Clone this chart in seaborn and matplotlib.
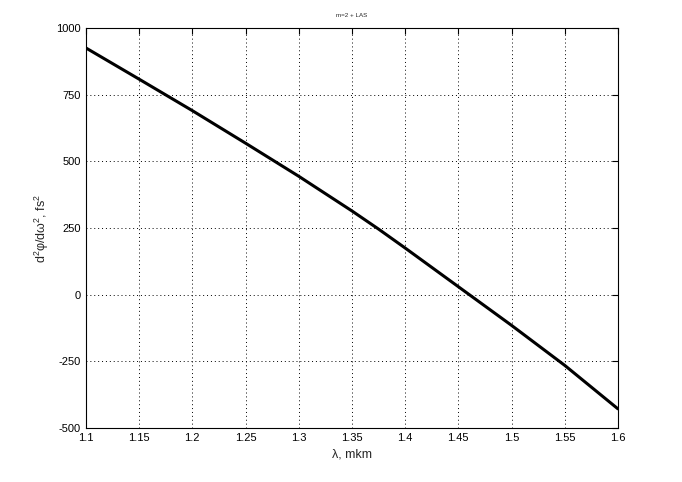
import numpy as np
import pandas as pd
import seaborn as sns
import matplotlib
matplotlib.use('Agg')
import matplotlib.pyplot as plt

# values
wavelength = [1.10, 1.15, 1.20, 1.25, 1.30, 1.35, 1.375, 1.40, 1.45, 1.50, 1.55, 1.60]
gdd = [925, 808, 690, 568, 444, 314, 246, 175, 30, -115, -265, -428]

x_ticks = [1.1, 1.15, 1.2, 1.25, 1.3, 1.35, 1.4, 1.45, 1.5, 1.55, 1.6]
x_tick_labels = ['1.1', '1.15', '1.2', '1.25', '1.3', '1.35', '1.4', '1.45', '1.5', '1.55', '1.6']
y_ticks = [-500, -250, 0, 250, 500, 750, 1000]

df = pd.DataFrame({'lam': wavelength, 'gdd': gdd})

sns.set_style('white')
plt.rcParams['font.family'] = ['Liberation Sans', 'DejaVu Sans']
plt.rcParams['mathtext.fontset'] = 'custom'
plt.rcParams['mathtext.rm'] = 'Liberation Sans'
plt.rcParams['mathtext.it'] = 'Liberation Sans'
plt.rcParams['axes.unicode_minus'] = False

fig = plt.figure(figsize=(6.82, 4.82), dpi=100)
ax = fig.add_axes([0.126, 0.112, 0.780, 0.830])

sns.lineplot(data=df, x='lam', y='gdd', color='black', linewidth=2.2, ax=ax)

ax.set_xlim(1.1, 1.6)
ax.set_ylim(-500, 1000)
ax.set_xticks(x_ticks)
ax.set_xticklabels(x_tick_labels)
ax.set_yticks(y_ticks)
ax.tick_params(direction='in', length=4, width=0.8, labelsize=8, colors='black',
               top=True, right=True)
ax.grid(True, color='black', linestyle=(0, (1, 3)), linewidth=0.7)
for s in ax.spines.values():
    s.set_color('black')
    s.set_linewidth(0.8)

ax.set_xlabel('λ, mkm', fontsize=9)
ax.set_ylabel(r'd$^2$φ/dω$^2$, fs$^2$', fontsize=9)
ax.set_title('m=2 + LAS', fontsize=4.5, pad=8)

fig.savefig('out.png', dpi=100)
